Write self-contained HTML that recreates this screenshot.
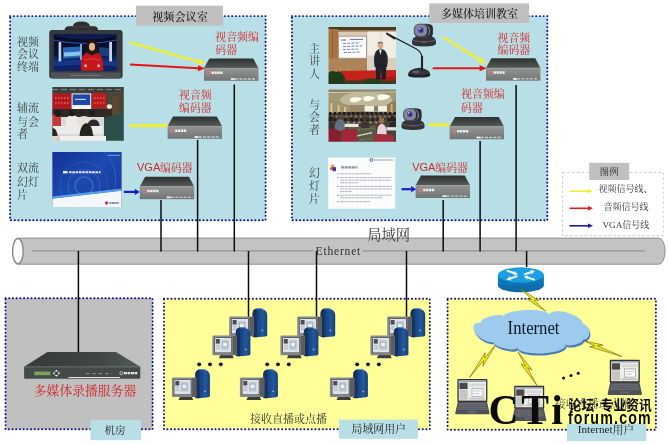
<!DOCTYPE html>
<html lang="zh-CN"><head><meta charset="utf-8"><title>多媒体录播系统网络拓扑图</title>
<style>
html,body{margin:0;padding:0;background:#fff;}
body{width:668px;height:445px;overflow:hidden;font-family:"Liberation Serif",serif;}
svg{display:block;}
svg text{opacity:.995;}
.cs{font-family:"Liberation Serif","Noto Serif CJK SC",serif;}
.cb{font-family:"Liberation Sans","Noto Sans CJK SC",sans-serif;font-weight:bold;}
</style></head><body>
<svg width="668" height="445" viewBox="0 0 668 445">
<rect width="668" height="445" fill="#fff"/>
<defs><filter id="soft" x="-5%" y="-20%" width="110%" height="140%"><feGaussianBlur stdDeviation="0.35"/></filter></defs>
<rect x="10.1" y="16.1" width="255.5" height="204.2" stroke="#121286" stroke-width="1.95" stroke-linecap="round" stroke-dasharray="0.15 3.55" fill="#b9dfe6"/>
<rect x="291.9" y="16.1" width="255.4" height="204.2" stroke="#121286" stroke-width="1.95" stroke-linecap="round" stroke-dasharray="0.15 3.55" fill="#b9dfe6"/>
<rect x="136" y="5.7" width="87" height="20" fill="#c0c0c0"/>
<rect x="429.2" y="3.4" width="99.8" height="19.6" fill="#c0c0c0"/>
<path d="M17.9 238.1H658.7a6.4 13.05 0 0 1 0 26.1H17.9z" fill="#c3c3c3" stroke="#8e8e8e" stroke-width="1"/>
<ellipse cx="17.9" cy="251.15" rx="5.3" ry="12.7" fill="#fcfcfc" stroke="#888" stroke-width="1.4"/>
<path d="M32 250.9H313.6M362.6 250.9H644.8" stroke="#949494" stroke-width="1.25"/>
<rect x="5.5" y="298.3" width="147.1" height="131.0" stroke="#121286" stroke-width="1.95" stroke-linecap="round" stroke-dasharray="0.15 3.55" fill="#c0c0c0"/>
<rect x="164.0" y="298.8" width="265.8" height="130.5" stroke="#121286" stroke-width="1.95" stroke-linecap="round" stroke-dasharray="0.15 3.55" fill="#ffff99"/>
<rect x="447.6" y="298.8" width="208.3" height="130.9" stroke="#121286" stroke-width="1.95" stroke-linecap="round" stroke-dasharray="0.15 3.55" fill="#ffff99"/>
<rect x="90.5" y="420.2" width="50.5" height="20" fill="#b9dfe6"/>
<rect x="339" y="419.6" width="79" height="19.2" fill="#b9dfe6"/>
<rect x="567" y="423.7" width="79.3" height="17.4" fill="#b9dfe6"/>
<path d="M78.40 251.00V352.50" stroke="#0a0a0a" stroke-width="1.50"/>
<path d="M161.00 200.00V251.50" stroke="#0a0a0a" stroke-width="1.50"/>
<path d="M197.60 140.00V251.50" stroke="#0a0a0a" stroke-width="1.50"/>
<path d="M234.30 84.50V251.50" stroke="#0a0a0a" stroke-width="1.50"/>
<path d="M248.50 251.00V317.00" stroke="#0a0a0a" stroke-width="1.50"/>
<path d="M316.50 251.00V317.00" stroke="#0a0a0a" stroke-width="1.50"/>
<path d="M406.50 251.00V317.00" stroke="#0a0a0a" stroke-width="1.50"/>
<path d="M443.20 200.00V251.50" stroke="#0a0a0a" stroke-width="1.50"/>
<path d="M480.10 141.00V251.50" stroke="#0a0a0a" stroke-width="1.50"/>
<path d="M516.10 85.00V251.50" stroke="#0a0a0a" stroke-width="1.50"/>
<path d="M526.60 251.00V267.00" stroke="#0a0a0a" stroke-width="1.50"/>
<defs>
<linearGradient id="encTop" x1="0" y1="0" x2="0" y2="1"><stop offset="0" stop-color="#2c302f"/><stop offset="1" stop-color="#555958"/></linearGradient>
<linearGradient id="encFront" x1="0" y1="0" x2="0" y2="1"><stop offset="0" stop-color="#929594"/><stop offset="0.5" stop-color="#828584"/><stop offset="1" stop-color="#727574"/></linearGradient>
<g id="enc">
<path d="M5.4 -9.6H49.2L54.4 0H0z" fill="url(#encTop)"/>
<rect x="0" y="0" width="54.4" height="12.8" fill="url(#encFront)"/>
<path d="M0 0.3H54.4" stroke="#a6a9a8" stroke-width="0.6"/>
<circle cx="4.9" cy="4.7" r="1.7" fill="none" stroke="#f47a7a" stroke-width="0.9"/>
<path d="M7.6 4.7H19" stroke="#f0f0f0" stroke-width="2.5" stroke-dasharray="2.3 0.6"/>
<path d="M27 11H52.5" stroke="#c8cccc" stroke-width="1.3" stroke-dasharray="3 1.2"/>
<path d="M27 11H31" stroke="#f4f4f4" stroke-width="1.5"/>
</g></defs>
<use href="#enc" x="204.0" y="68.0"/>
<use href="#enc" x="167.6" y="126.0"/>
<use href="#enc" x="139.8" y="186.4"/>
<use href="#enc" x="486.0" y="67.9"/>
<use href="#enc" x="449.6" y="126.5"/>
<use href="#enc" x="415.6" y="185.2"/>
<g filter="url(#soft)">
<path d="M130.00 42.50L198.66 61.71" stroke="#eef036" stroke-width="2.40"/><path d="M205.40 63.60L197.32 64.66L199.04 58.50z" fill="#eef036"/>
<path d="M130.00 64.50L198.51 68.25" stroke="#e01818" stroke-width="2.00"/><path d="M205.00 68.60L197.85 71.21L198.17 65.22z" fill="#e01818"/>
<path d="M129.60 125.40L165.10 125.40" stroke="#eef036" stroke-width="3.00"/><path d="M168.60 125.40L164.60 127.80L164.60 123.00z" fill="#eef036"/>
<path d="M123.90 191.90L135.30 191.90" stroke="#1a1ad0" stroke-width="2.20"/><path d="M139.80 191.90L134.80 195.00L134.80 188.80z" fill="#1a1ad0"/>
<path d="M443.00 37.00L480.44 60.12" stroke="#eef036" stroke-width="2.40"/><path d="M486.40 63.80L478.34 62.58L481.70 57.14z" fill="#eef036"/>
<path d="M432.70 68.20L480.10 68.20" stroke="#e01818" stroke-width="2.10"/><path d="M486.60 68.20L479.60 71.20L479.60 65.20z" fill="#e01818"/>
<path d="M428.80 124.80L447.10 124.80" stroke="#eef036" stroke-width="3.00"/><path d="M450.60 124.80L446.60 127.20L446.60 122.40z" fill="#eef036"/>
<path d="M401.50 189.20L411.70 189.20" stroke="#1a1ad0" stroke-width="2.20"/><path d="M416.20 189.20L411.20 192.30L411.20 186.10z" fill="#1a1ad0"/>
</g>
<rect x="562.5" y="172.5" width="100.8" height="63" fill="none" stroke="#c6c6c6" stroke-width="0.9" stroke-dasharray="2.4 2.4"/>
<rect x="589.2" y="162.8" width="40" height="17.2" fill="#c0c0c0"/>
<path d="M569.50 191.20L588.50 191.20" stroke="#eef036" stroke-width="1.60"/><path d="M593.00 191.20L588.00 193.40L588.00 189.00z" fill="#eef036"/>
<path d="M569.50 208.30L588.50 208.30" stroke="#e01818" stroke-width="1.60"/><path d="M593.00 208.30L588.00 210.50L588.00 206.10z" fill="#e01818"/>
<path d="M569.50 225.80L588.50 225.80" stroke="#1a1aa8" stroke-width="1.60"/><path d="M593.00 225.80L588.00 228.00L588.00 223.60z" fill="#1a1aa8"/>
<defs>
<filter id="ph" x="-2%" y="-2%" width="104%" height="104%"><feGaussianBlur stdDeviation="0.55"/></filter>
<filter id="ph2" x="-2%" y="-2%" width="104%" height="104%"><feGaussianBlur stdDeviation="0.9"/></filter>
<filter id="b3" x="-10%" y="-10%" width="120%" height="120%"><feGaussianBlur stdDeviation="0.3"/></filter>
<clipPath id="cTV"><rect x="53.8" y="34" width="62.7" height="36.7"/></clipPath>
<clipPath id="cMeet"><rect x="52.3" y="87" width="71.5" height="53.7"/></clipPath>
<clipPath id="cSlide"><rect x="52.2" y="152" width="69.6" height="55"/></clipPath>
<clipPath id="cLect"><rect x="328.5" y="27" width="67.5" height="57"/></clipPath>
<clipPath id="cAud"><rect x="328.5" y="89.6" width="67.5" height="52.2"/></clipPath>
<linearGradient id="gTV" x1="0" y1="0" x2="0" y2="1"><stop offset="0" stop-color="#050920"/><stop offset="0.55" stop-color="#08133a"/><stop offset="0.74" stop-color="#10327e"/><stop offset="1" stop-color="#091e58"/></linearGradient>
<linearGradient id="gSlide" x1="0" y1="0" x2="1" y2="1"><stop offset="0" stop-color="#143096"/><stop offset="0.45" stop-color="#1c49b0"/><stop offset="1" stop-color="#1a3a9c"/></linearGradient>
<linearGradient id="gTower" x1="0" y1="0" x2="1" y2="0"><stop offset="0" stop-color="#12305f"/><stop offset="0.3" stop-color="#18427f"/><stop offset="0.7" stop-color="#24589c"/><stop offset="1" stop-color="#183f78"/></linearGradient>
<linearGradient id="gRouterSide" x1="0" y1="0" x2="1" y2="0"><stop offset="0" stop-color="#0a6aa8"/><stop offset="0.5" stop-color="#0c78ba"/><stop offset="1" stop-color="#08588e"/></linearGradient>
<linearGradient id="gCloud" x1="0" y1="0" x2="0" y2="1"><stop offset="0" stop-color="#b4dcf6"/><stop offset="0.6" stop-color="#9ccbee"/><stop offset="1" stop-color="#78b0e0"/></linearGradient>
</defs>
<g id="tv">
<path d="M64.5 30.5Q64.5 26.4 69 26.2L73 26Q73.4 21.4 81.4 21.4T89.8 26L94 26.2Q98.2 26.4 98.2 30.5z" fill="#2e3033"/>
<path d="M70 26.9H93" stroke="#55585c" stroke-width="0.7"/>
<rect x="49.2" y="30" width="73.4" height="48.6" rx="3" fill="#35383c"/>
<path d="M51 72.5H120.8V76.5Q120.8 78.6 118 78.6H54Q51 78.6 51 76.5z" fill="#505357"/>
<path d="M70 75.3H100" stroke="#8b8e92" stroke-width="1" stroke-dasharray="1 0.5"/>
<rect x="53.8" y="34" width="62.7" height="36.7" fill="url(#gTV)"/>
<g clip-path="url(#cTV)"><g filter="url(#ph)">
<path d="M53 36Q85 43 117 36V34H53z" fill="#101f4e"/>
<path d="M53 40Q85 47 117 40" stroke="#2f56a2" stroke-width="1.2" fill="none"/>
<rect x="58.6" y="42" width="2.6" height="22" fill="#c9d4e4"/>
<rect x="109.2" y="42" width="2.8" height="22" fill="#c9d4e4"/>
<rect x="80" y="44" width="2" height="18" fill="#8fa6cc"/>
<path d="M63 47.5L80 46.4V57.6L63 58.6z" fill="#2668b8"/>
<path d="M64 52.6L80 51.6V55.4L64 56.4z" fill="#8cc4ee"/>
<path d="M99 47L109 48.2V56.4L99 55.6z" fill="#1c3c78"/>
<path d="M53 62Q85 58 117 62V71H53z" fill="#123688"/>
<path d="M53 66.6Q85 63 117 66.6V71H53z" fill="#0a2466"/>
<ellipse cx="92" cy="45.8" rx="5.6" ry="6" fill="#20140f"/>
<path d="M86.6 47Q85 55 87.4 58H96.6Q99 55 97.4 47z" fill="#20140f"/>
<ellipse cx="92" cy="46.8" rx="3.1" ry="4" fill="#e4b394"/>
<path d="M81 71Q79.6 55.4 87 52.8L92 55.6L97 52.8Q104.4 55.4 103.2 71z" fill="#c4161c"/>
<path d="M84 60Q92 57 100 60" stroke="#e0484a" stroke-width="0.8" fill="none"/>
<circle cx="85.6" cy="65.8" r="1.5" fill="#e0b090"/><circle cx="98.6" cy="65.8" r="1.5" fill="#e0b090"/>
</g></g>
</g>
<g clip-path="url(#cMeet)"><g filter="url(#ph)">
<rect x="51" y="86" width="74" height="56" fill="#4a4a40"/>
<rect x="51" y="86" width="74" height="7.5" fill="#3c413c"/>
<path d="M52 89.6H124" stroke="#8a8c84" stroke-width="0.9" stroke-dasharray="6 3"/>
<rect x="52.3" y="93.5" width="19" height="16" fill="#b3181c"/>
<rect x="92" y="93" width="14.4" height="15.4" fill="#b81a1e"/>
<path d="M55 98H70M55 103H70M94 98H105M94 103H105" stroke="#d86a60" stroke-width="1.6" stroke-dasharray="1.6 1.4"/>
<rect x="71.6" y="93.4" width="19.6" height="15.8" fill="#f1f3f7"/>
<rect x="72.6" y="94.4" width="17.6" height="10.6" fill="#2344a8"/>
<path d="M75 99.4H86" stroke="#bcd0f2" stroke-width="1.2"/>
<rect x="106.4" y="92" width="18" height="30" fill="#4c4434"/>
<rect x="112" y="96" width="7" height="18" fill="#5c4a34"/>
<ellipse cx="109.4" cy="106.6" rx="2.6" ry="2.4" fill="#e8e4d8"/>
<rect x="103" y="109" width="9" height="13" fill="#3b2a20"/>
<path d="M104 118L124 112V141H104z" fill="#2f5048"/>
<rect x="52" y="109" width="53" height="8" fill="#2e2a28"/>
<path d="M52 117H104V141H52z" fill="#d8d8d6"/>
<path d="M52 116Q56 110 61 116V128H52z" fill="#c23a3a"/>
<ellipse cx="58" cy="113.4" rx="3.6" ry="3.4" fill="#1c1a1a"/>
<path d="M66 118Q72 112 79 118V131H66z" fill="#ecebe8"/>
<ellipse cx="72" cy="113" rx="3.4" ry="3.2" fill="#221e1c"/>
<ellipse cx="82" cy="112.4" rx="3.2" ry="3" fill="#2a2422"/><ellipse cx="92" cy="113" rx="3.2" ry="3" fill="#241f1d"/>
<path d="M77 119Q84 113 91 119V128H77z" fill="#e4e2de"/>
<path d="M87 127Q88 119.4 93.6 119.6Q99.4 119.4 100 128V133H87z" fill="#2b2c30"/>
<rect x="53" y="126" width="50" height="8" fill="#ebebea"/>
<path d="M79.6 141Q79 124.6 86.4 123Q93.6 124.6 93 141z" fill="#26221f"/>
<path d="M77.4 141Q78 134.6 86.4 133.6Q95 134.6 100.6 141z" fill="#2b2927"/>
<path d="M52 128Q56.6 127.4 57.6 136H52z" fill="#2a2624"/>
<path d="M56 141Q58 133 64 136L66 141z" fill="#e6c8b4"/>
<rect x="60" y="136" width="46" height="5" fill="#f0f0ef"/>

</g></g>
<g clip-path="url(#cSlide)">
<rect x="52.2" y="152" width="69.6" height="55" fill="url(#gSlide)"/>
<g filter="url(#ph)">
<circle cx="84" cy="186" r="9" fill="none" stroke="#4f7fd4" stroke-width="1.6" opacity=".55"/>
<circle cx="84" cy="186" r="16" fill="none" stroke="#4a78cc" stroke-width="1.2" opacity=".45"/>
<circle cx="84" cy="186" r="24" fill="none" stroke="#4370c4" stroke-width="1" opacity=".4"/>
<path d="M104 152Q122 168 112 196" stroke="#4a76cc" stroke-width="1" fill="none" opacity=".5"/>
<path d="M52.2 198.4L121.8 190.4V207H52.2z" fill="#f4f7fb"/>
<path d="M52.2 197.6L121.8 189.6" stroke="#55a0e6" stroke-width="2.4"/>
<path d="M63 172.2H67.6" stroke="#e8eefc" stroke-width="2.4"/>
<path d="M69 172.2H100.6" stroke="#dfe8fa" stroke-width="1.9" stroke-dasharray="2.6 .7"/>
<path d="M108 155.4H120" stroke="#8fb0ea" stroke-width="0.8"/>
<circle cx="106.6" cy="203" r="1.7" fill="#c4364a"/>
<path d="M109.4 203H118.6" stroke="#51608c" stroke-width="1.7" stroke-dasharray="2 .5"/>
</g></g>
<g clip-path="url(#cLect)"><g filter="url(#ph)">
<rect x="327" y="26" width="70" height="59" fill="#d9cab2"/>
<rect x="327" y="26" width="70" height="4.6" fill="#4f3822"/>
<path d="M327 31H397" stroke="#a08258" stroke-width="1.4"/>
<rect x="327" y="29" width="11.4" height="43" fill="#aa733c"/>
<path d="M332.6 30V70" stroke="#8c5c2e" stroke-width="0.8"/>
<rect x="367.4" y="31.6" width="29" height="27" fill="#f1ede5"/>
<path d="M381 33V58" stroke="#cfc8ba" stroke-width="0.7"/>
<rect x="338.4" y="36.2" width="28" height="22" fill="#fbfbfb" stroke="#8b8578" stroke-width="0.7"/>
<path d="M341 40H346M350 39.4H363" stroke="#55617c" stroke-width="0.9"/>
<path d="M343 43.6L360 42.8M343 46.6L362 45.8M343 49.6L358 49M344 52.6L361 52" stroke="#5b79b8" stroke-width="0.9" stroke-dasharray="3 1.2"/>
<rect x="327" y="58.4" width="70" height="14" fill="#ab8558"/>
<rect x="367" y="58" width="30" height="14" fill="#dccfbc"/>
<rect x="367" y="55.6" width="9" height="17.4" fill="#d9d4ca"/>
<path d="M338 71L397 70V82H336z" fill="#c4201f"/>
<path d="M345 81L397 76V85H345z" fill="#a81a1a"/>
<rect x="327" y="80.6" width="70" height="4" fill="#3a3a22"/>
<path d="M327 74Q331 69 336 72Q341 70 344 76Q347 80 343 84H327z" fill="#223a1a"/>
<path d="M362 84Q364 78 372 78.6Q380 77.4 384 84z" fill="#27401e"/>
<path d="M348 66V71M340 67V72" stroke="#b8a050" stroke-width="0.7"/>
<ellipse cx="380.5" cy="45.2" rx="2.7" ry="3.2" fill="#d8a888"/>
<path d="M377.8 44Q380.3 40.6 382.8 44L382.6 42.6Q380.3 40.8 378 42.6z" fill="#2a2018"/>
<path d="M374 61Q373.6 49.6 380.6 48.6Q388 49.6 387.8 61L387 67H374.6z" fill="#24262c"/>
<path d="M379 49.4L380.4 55L381.8 49.4z" fill="#e8e8ee"/>
<path d="M375.4 64H386.4L385.8 78.4H381.8L380.9 69L380 78.4H376.2z" fill="#1e2026"/>
<path d="M376 78.6H380.4M381.4 78.6H385.6" stroke="#18181c" stroke-width="1.2"/>
</g></g>
<g clip-path="url(#cAud)"><g filter="url(#ph)">
<rect x="327" y="88" width="70" height="55" fill="#4e463e"/>
<path d="M327 88H397V106L376 109H350L327 103z" fill="#a29978"/>
<ellipse cx="366" cy="100" rx="26" ry="8" fill="#c2b99a"/>
<path d="M327 88H397V92.4H327z" fill="#8c8466"/>
<path d="M327 92.6L397 91.8" stroke="#d2cab0" stroke-width="1"/>
<path d="M350 98.6Q356 96 362.4 98.4Q357 103.4 350.6 102z" fill="#fffbe8"/>
<path d="M363.4 97Q369.4 94.6 375.4 97.4Q370 102.4 364 100.8z" fill="#fffdf0"/>
<path d="M377.4 95.4Q384 92.8 390.6 96Q385 101.6 378 100z" fill="#fffdf0"/>
<path d="M327 98L350 105.4V117H327z" fill="#a3946c"/>
<path d="M331.4 103V115M338.6 105V116M345 107V116" stroke="#d8caa0" stroke-width="1.8"/>
<path d="M397 100L385 105.4V117H397z" fill="#8f7c52"/>
<path d="M391.6 104V116" stroke="#c8b484" stroke-width="1.8"/>
<rect x="350" y="105" width="36" height="8" fill="#97896a"/>
<rect x="364.6" y="105.6" width="22.4" height="6" fill="#f1efe6"/>
<rect x="374" y="106" width="4" height="5.6" fill="#8a7c68"/>
<path d="M327 113.6Q362 110 397 113.6V143H327z" fill="#4a423a"/>
<path d="M329 113.6H396" stroke="#231d1a" stroke-width="3" stroke-dasharray="2.6 2"/>
<path d="M331 116.6H396" stroke="#8d7a66" stroke-width="2" stroke-dasharray="2 2.8"/>
<path d="M328 119.6H396" stroke="#221c19" stroke-width="2.8" stroke-dasharray="3 2.4"/>
<path d="M347 122.6H378" stroke="#9c8a76" stroke-width="2" stroke-dasharray="2.4 3.2"/>
<path d="M352 126H376" stroke="#2b2420" stroke-width="3" stroke-dasharray="3.2 2.6"/>
<path d="M356 126L376 125V143H358z" fill="#5a5a42"/>
<path d="M358 130L374 128M359 135L373 133M360 140L372 138" stroke="#7a7a58" stroke-width="1.4" stroke-dasharray="2 1.6"/>
<path d="M334.6 131Q334.6 119.4 340 119T345.6 131z" fill="#617182"/>
<ellipse cx="339.8" cy="116.6" rx="2.5" ry="2.7" fill="#5a4232"/>
<ellipse cx="331" cy="118.6" rx="2.4" ry="2.6" fill="#2a221e"/><path d="M327 131V121.6Q331 120.4 334 123V131z" fill="#3a322e"/>
<ellipse cx="352" cy="119.6" rx="2.5" ry="2.7" fill="#2b2420"/><path d="M348 129Q348 122.4 352 122.4T356.4 129z" fill="#6a5a4c"/>
<rect x="344.6" y="123.8" width="14" height="3.2" fill="#e8e6dc"/>
<ellipse cx="365" cy="118.6" rx="2.4" ry="2.6" fill="#4a3428"/><path d="M361 128Q361 121.4 365 121.4T369.4 128z" fill="#3c3430"/>
<path d="M377 136Q376.6 124.2 381.8 123.8Q387 124.2 386.6 136z" fill="#ead4da"/>
<ellipse cx="381.6" cy="120.6" rx="3" ry="3.1" fill="#8e6c4c"/>
<ellipse cx="392.6" cy="118.6" rx="2.6" ry="2.8" fill="#2a221e"/><path d="M388.8 130Q389 121.6 393.4 121.6L397 122.6V130z" fill="#2f2b2a"/>
<rect x="386.4" y="127.2" width="10" height="3.2" fill="#dfe5ec"/>
<path d="M341.2 143V132Q341.6 129 346 129.2L354 129.6Q357.6 130 357.4 134L356.6 143z" fill="#a02838"/>
<path d="M327 128.6Q334 127.6 339.6 131V143H327z" fill="#8a1f30"/>
<path d="M374.3 143V137Q374.6 133.8 379 134L390 134.4Q394 134.8 394 138.6V143z" fill="#a32a3a"/>
<path d="M357 136L372 132.6" stroke="#dcd8cc" stroke-width="1.2"/>
</g></g>
<g>
<rect x="328.2" y="157.6" width="67" height="51.1" fill="#fcfcfd"/>
<g filter="url(#b3)">
<circle cx="371.4" cy="160" r="1.5" fill="none" stroke="#3a4152" stroke-width="0.8"/>
<path d="M373.6 160H393.6" stroke="#7a88b0" stroke-width="0.8"/>
<circle cx="332.8" cy="166.4" r="1.9" fill="#f0a020"/>
<circle cx="331.6" cy="168.6" r="1.7" fill="#e05838"/>
<rect x="332.6" y="167.2" width="3.4" height="4" fill="#3a3c9c"/>
<path d="M341 167.4H357.4" stroke="#8b93b4" stroke-width="2.2" stroke-dasharray="3 .6"/>
<g stroke="#aeb3c2" stroke-width="0.95" stroke-dasharray="4 .5 2.6 .5">
<path d="M340 173.8H371.6"/><path d="M340 177.6H391.6"/><path d="M340 180.2H391"/><path d="M340 182.8H358"/>
<path d="M340 186.4H392"/><path d="M340 189H392.4"/><path d="M340 191.6H352"/>
<path d="M340 195.2H391.4"/><path d="M340 197.8H382.6"/><path d="M340 201.6H370"/>
</g>
<g fill="#4a5a94"><circle cx="338" cy="173.8" r=".6"/><circle cx="338" cy="177.6" r=".6"/><circle cx="338" cy="186.4" r=".6"/><circle cx="338" cy="195.2" r=".6"/><circle cx="338" cy="201.6" r=".6"/></g>
</g></g>
<defs><g id="cam">
<path d="M0 19Q0 15 3.4 13.4Q5 11.6 12 11.6T20.6 13.4Q24 15 24 19V20Q24 23 12 23T0 20z" fill="#303238"/>
<path d="M1.2 17Q12 20.4 22.8 17" stroke="#666970" stroke-width="0.9" fill="none"/>
<rect x="1.8" y="0.4" width="19" height="13.6" rx="5.4" fill="#43464d"/>
<rect x="13.8" y="1" width="7" height="12.6" rx="3.4" fill="#2b2d32"/><path d="M15.4 2.4Q19.4 6.6 16.4 12" stroke="#9a9da6" stroke-width="0.9" fill="none"/>
<rect x="2.6" y="1.2" width="12.6" height="11.6" rx="4.6" fill="#80848c"/>
<circle cx="8.8" cy="6.8" r="4.6" fill="#9094b4"/>
<circle cx="8.8" cy="6.8" r="3.4" fill="#5a5da8"/>
<circle cx="9" cy="7" r="1.8" fill="#2c2e6a"/>
<circle cx="7.6" cy="5.4" r="0.9" fill="#c8ccf0"/>
<circle cx="12" cy="18.6" r="0.8" fill="#7a7d84"/>
</g></defs>
<use href="#cam" x="412" y="23.4" filter="url(#b3)"/>
<use href="#cam" transform="translate(401.4 107.8) scale(0.965)" filter="url(#b3)"/>
<g filter="url(#b3)">
<path d="M407.9 75Q408 69 419.2 67.8Q430.2 69 430.4 75Q430.4 77.6 419.2 77.6T407.9 75z" fill="#222327"/>
<path d="M409.4 73.4Q410 69.6 419.2 69T429 73.4Q424 75.2 419.2 75.2T409.4 73.4z" fill="#34363b"/>

<ellipse cx="416" cy="72" rx="3.6" ry="1.4" fill="#5a5d63"/>
<path d="M388.6 34.4L416 48.8Q422 52 422 58V70.4" stroke="#222326" stroke-width="1.25" fill="none"/>
<path d="M422 56V70.6" stroke="#222326" stroke-width="2.1"/>
<path d="M387 33.6L394.4 38.4" stroke="#2a2b2e" stroke-width="2.2" stroke-linecap="round"/>
</g>
<defs><linearGradient id="gSrvTop" x1="0" y1="0" x2="1" y2="0"><stop offset="0" stop-color="#353b38"/><stop offset="0.6" stop-color="#3f4541"/><stop offset="1" stop-color="#535954"/></linearGradient></defs>
<g filter="url(#b3)">
<path d="M47.4 352.1H116L140.3 366.8H24.1z" fill="url(#gSrvTop)"/>
<path d="M24.1 366.8H140.3V377.4Q140.3 378.7 139 378.7H25.4Q24.1 378.7 24.1 377.4z" fill="#454b48"/>
<path d="M24.1 367.1H140.3" stroke="#6f7472" stroke-width="0.6"/>
<rect x="34.2" y="371.6" width="16.2" height="3.6" fill="#76a656"/>
<path d="M56.4 369.8l1.7 1.7h-3.4zM56.4 376.8l1.7-1.7h-3.4zM52.8 373.3l1.7-1.7v3.4zM60 373.3l-1.7-1.7v3.4z" fill="#f4f4f4"/>
<path d="M86 373.6H112" stroke="#9a9e9c" stroke-width="0.9" stroke-dasharray="3.4 3"/>
<circle cx="121.4" cy="373.2" r="1.6" fill="none" stroke="#e8e8e8" stroke-width="0.7"/>
<path d="M124 373.2H138" stroke="#e8e8e8" stroke-width="2.2" stroke-dasharray="2.8 .7"/>
<path d="M68.6 377.5H120" stroke="#e6e8e6" stroke-width="1.1"/>
</g>
<defs><g id="pc">
<path d="M22.8 19.8V-3Q22.8 -7.2 26.6 -8.2Q30.4 -9 33.8 -7.4Q37.4 -5.8 37.4 -1.6V18.4Q37.4 19.4 35.6 19.6L26.4 20.5Q22.8 20.7 22.8 19.8z" fill="url(#gTower)"/>
<path d="M22.8 19.8V-3Q22.8 -7.2 26.6 -8.2L27 20.4Q22.8 20.7 22.8 19.8z" fill="#12305f"/>
<path d="M27.2 -8Q30.8 -8.9 33.8 -7.4" stroke="#5a8ccc" stroke-width="0.9" fill="none"/>
<circle cx="32.6" cy="13.6" r="0.9" fill="#8fb4e4"/>
<path d="M7.4 19H19.4L20.6 22.4H6z" fill="#3c3c3e"/>
<rect x="-0.6" y="-0.2" width="24.4" height="19.6" rx="1" fill="#8a8a8a"/>
<path d="M19.6 0.2H23Q23.8 0.2 23.8 1.2V18Q23.8 19 22.8 19H19.6z" fill="#5c5c5e"/>
<rect x="1.2" y="1.4" width="17.8" height="16" fill="#555a60"/>
<rect x="2" y="2.2" width="16.2" height="14.4" fill="#dde2e6"/>
<rect x="2.8" y="3.2" width="4" height="4.6" fill="#4a5058"/>
<rect x="8.4" y="4.4" width="7.4" height="9.4" fill="#b9c4d2"/>
<rect x="9.6" y="6.4" width="4.8" height="4.6" fill="#eef2f6" stroke="#8a94a6" stroke-width="0.5"/>
<path d="M3 10H7M3 12.4H7" stroke="#9aa2ac" stroke-width="0.8"/>
</g></defs>
<use href="#pc" x="229.8" y="316.8" filter="url(#b3)"/>
<use href="#pc" x="213.0" y="335.8" filter="url(#b3)"/>
<use href="#pc" x="172.5" y="377.7" filter="url(#b3)"/>
<circle cx="199.2" cy="364.3" r="1.9" fill="#0c0c0c"/>
<circle cx="210.0" cy="364.3" r="1.9" fill="#0c0c0c"/>
<circle cx="220.8" cy="364.3" r="1.9" fill="#0c0c0c"/>
<use href="#pc" x="297.8" y="316.8" filter="url(#b3)"/>
<use href="#pc" x="281.0" y="335.8" filter="url(#b3)"/>
<use href="#pc" x="240.5" y="377.7" filter="url(#b3)"/>
<circle cx="267.2" cy="364.3" r="1.9" fill="#0c0c0c"/>
<circle cx="278.0" cy="364.3" r="1.9" fill="#0c0c0c"/>
<circle cx="288.8" cy="364.3" r="1.9" fill="#0c0c0c"/>
<use href="#pc" x="387.8" y="316.8" filter="url(#b3)"/>
<use href="#pc" x="371.0" y="335.8" filter="url(#b3)"/>
<use href="#pc" x="330.5" y="377.7" filter="url(#b3)"/>
<circle cx="357.2" cy="364.3" r="1.9" fill="#0c0c0c"/>
<circle cx="368.0" cy="364.3" r="1.9" fill="#0c0c0c"/>
<circle cx="378.8" cy="364.3" r="1.9" fill="#0c0c0c"/>
<defs><linearGradient id="gRouterSide2" x1="0" y1="0" x2="0" y2="1"><stop offset="0" stop-color="#1182c4"/><stop offset="1" stop-color="#0a66a2"/></linearGradient></defs>
<g filter="url(#b3)">
<path d="M497.9 274.9V285.4A23 6.9 0 0 0 543.9 285.4V274.9z" fill="url(#gRouterSide2)"/>
<ellipse cx="520.9" cy="274.9" rx="23" ry="7.6" fill="#1f9fe0"/>
<path d="M506.80 270.70L514.58 273.27" stroke="#f6fbff" stroke-width="1.90"/><path d="M518.00 274.40L513.32 275.17L514.70 270.99z" fill="#f6fbff"/>
<path d="M534.90 279.90L527.22 277.34" stroke="#f6fbff" stroke-width="1.90"/><path d="M523.80 276.20L528.48 275.44L527.09 279.62z" fill="#f6fbff"/>
<path d="M524.20 274.40L531.58 272.01" stroke="#f6fbff" stroke-width="1.90"/><path d="M535.00 270.90L531.68 274.29L530.33 270.10z" fill="#f6fbff"/>
<path d="M517.40 276.20L509.83 278.61" stroke="#f6fbff" stroke-width="1.90"/><path d="M506.40 279.70L509.74 276.33L511.07 280.52z" fill="#f6fbff"/>
</g>
<polygon points="520.30,288.50 531.80,299.41 527.13,299.06 545.40,311.00 533.90,300.09 538.57,300.44" fill="#f4e81e" stroke="#6e6a10" stroke-width="0.65" stroke-linejoin="round"/>
<polygon points="495.80,344.60 484.44,358.10 485.10,352.71 469.60,377.40 483.58,360.62 482.92,366.01" fill="#f4e81e" stroke="#6e6a10" stroke-width="0.65" stroke-linejoin="round"/>
<polygon points="518.00,351.80 525.59,366.22 521.01,363.90 537.00,385.60 527.51,367.80 532.09,370.12" fill="#f4e81e" stroke="#6e6a10" stroke-width="0.65" stroke-linejoin="round"/>
<polygon points="583.10,340.50 594.93,345.85 589.59,346.73 621.80,356.40 597.59,345.97 602.93,345.08" fill="#f4e81e" stroke="#6e6a10" stroke-width="0.65" stroke-linejoin="round"/>
<g filter="url(#b3)">
<path d="M480.5 322.5C481.0 316.8 504.5 311.5 504.0 317.2C501.5 309.3 547.2 306.9 549.7 314.8C551.4 305.9 584.3 315.3 582.6 324.2C591.3 324.5 591.9 339.7 583.2 339.4C583.7 343.8 565.8 348.0 565.3 343.6C569.9 353.7 521.6 357.7 517.0 347.6C516.8 352.5 493.1 347.1 493.3 342.2C477.8 342.5 465.0 322.8 480.5 322.5z" fill="#4a7cb6" transform="translate(0.9 2.1)"/>
<path d="M480.5 322.5C481.0 316.8 504.5 311.5 504.0 317.2C501.5 309.3 547.2 306.9 549.7 314.8C551.4 305.9 584.3 315.3 582.6 324.2C591.3 324.5 591.9 339.7 583.2 339.4C583.7 343.8 565.8 348.0 565.3 343.6C569.9 353.7 521.6 357.7 517.0 347.6C516.8 352.5 493.1 347.1 493.3 342.2C477.8 342.5 465.0 322.8 480.5 322.5z" fill="#9dcbee"/>
</g>
<text transform="translate(507.6 333.5) scale(1 1.07)" font-family="Liberation Serif" font-size="16.7" fill="#0c1626">Internet</text>
<defs><g id="lap">
<path d="M0.4 22.6H29.6L32.2 34.4Q32.4 35.2 31.4 35.2H-1.4Q-2.4 35.2 -2.2 34.4z" fill="#50505a"/>
<path d="M2 24H28L30 30.6H0z" fill="#6e6e78"/>
<path d="M1.8 25.6H28.4M1.2 27.4H29M0.6 29.2H29.6" stroke="#42424a" stroke-width="0.5"/>
<rect x="10.4" y="31.6" width="9" height="2.4" fill="#62626c"/>
<rect x="0" y="0" width="30" height="23" rx="1" fill="#303036"/>
<rect x="1.3" y="1.3" width="27.4" height="20.2" fill="#eeeeea"/>
<rect x="1.3" y="1.3" width="27.4" height="1.6" fill="#9aa4b4"/>
<rect x="2" y="3.6" width="8.2" height="6.4" fill="#4a484c"/>
<rect x="2" y="10.8" width="8.2" height="9.8" fill="#c4c6c2"/>
<rect x="11.4" y="4.4" width="16.2" height="3" fill="#d6d9d5"/>
<rect x="14.6" y="9.2" width="11" height="8.2" fill="#fafafa" stroke="#8a8c92" stroke-width="0.6"/>
<path d="M16.2 11.8H24M16.2 14.4H22" stroke="#b0b4bc" stroke-width="0.7"/>
<rect x="11.4" y="18.6" width="16.2" height="1.8" fill="#c2c4c0"/>
</g></defs>
<use href="#lap" x="457.4" y="379.1" filter="url(#b3)"/>
<use href="#lap" x="514.2" y="385.8" filter="url(#b3)"/>
<use href="#lap" x="609.8" y="359.7" filter="url(#b3)"/>
<circle cx="563.6" cy="378.0" r="1.5" fill="#0c0c0c"/>
<circle cx="571.0" cy="375.6" r="1.5" fill="#0c0c0c"/>
<circle cx="578.2" cy="373.2" r="1.5" fill="#0c0c0c"/>
<text class="cs" x="152.20" y="20.62" font-size="11.15" font-weight="500" fill="#151515">视频会议室</text>
<text class="cs" x="441.11" y="18.47" font-size="10.97" font-weight="500" fill="#151515">多媒体培训教室</text>
<g class="cs" font-size="11" fill="#3a4346">
<text x="17.11" y="45.50">视频</text>
<text x="17.11" y="58.30">会议</text>
<text x="17.11" y="71.30">终端</text>
<text x="17.11" y="112.30">辅流</text>
<text x="17.11" y="125.70">与会</text>
<text x="17.11" y="138.09">者</text>
<text x="17.11" y="172.29">双流</text>
<text x="17.11" y="185.69">幻灯</text>
<text x="17.11" y="199.09">片</text>
<text x="309.00" y="52.50">主</text>
<text x="309.00" y="65.30">讲</text>
<text x="309.00" y="78.09">人</text>
<text x="309.00" y="108.70">与</text>
<text x="309.00" y="121.30">会</text>
<text x="309.00" y="134.09">者</text>
<text x="309.00" y="177.29">幻</text>
<text x="309.00" y="190.29">灯</text>
<text x="309.00" y="202.89">片</text>
</g>
<g class="cs" font-size="10.9" fill="#d42626">
<text x="215.31" y="41.21">视音频编</text>
<text x="215.31" y="54.41">码器</text>
<text x="179.01" y="98.81">视音频</text>
<text x="179.01" y="112.01">编码器</text>
<text x="497.51" y="41.61">视音频</text>
<text x="497.51" y="54.41">编码器</text>
<text x="461.01" y="98.41">视音频编</text>
<text x="461.01" y="111.61">码器</text>
</g>
<g fill="#d42626"><text x="137.00" y="171.48" font-family="Liberation Sans" font-size="11.00">VGA</text><text class="cs" x="160.07" y="171.81" font-size="10.9">编码器</text></g>
<g fill="#d42626"><text x="412.20" y="171.48" font-family="Liberation Sans" font-size="11.00">VGA</text><text class="cs" x="435.27" y="171.81" font-size="10.9">编码器</text></g>
<text class="cs" x="599.78" y="174.74" font-size="9.4" fill="#222">图例</text>
<text class="cs" x="598.39" y="192.00" font-size="9" fill="#333">视频信号线、</text>
<text class="cs" x="603.60" y="210.00" font-size="9" fill="#333">音频信号线</text>
<g fill="#333"><text x="602.40" y="227.53" font-family="Liberation Serif" font-size="9.20">VGA</text><text class="cs" x="622.20" y="227.80" font-size="9">信号线</text></g>
<text class="cs" x="367.26" y="239.68" font-size="14.3" fill="#3a3a3a">局域网</text>
<text x="315.6" y="254.7" font-family="Liberation Serif" font-size="11.6" letter-spacing="0.78" fill="#333">Ethernet</text>
<text class="cs" x="33.82" y="394.62" font-size="12.8" fill="#d42626">多媒体录播服务器</text>
<text class="cs" x="104.52" y="433.76" font-size="10.6" fill="#222">机房</text>
<text class="cs" x="249.91" y="423.30" font-size="11" fill="#333">接收直播或点播</text>
<text class="cs" x="351.51" y="432.81" font-size="10.9" fill="#222">局域网用户</text>
<text class="cs" x="554.71" y="408.30" font-size="11" fill="#444">接收直播或点播</text>
<g fill="#222"><text x="577.80" y="433.40" font-family="Liberation Serif" font-size="11.20">Internet</text><text class="cs" x="612.46" y="433.73" font-size="10.8">用户</text></g>
<text x="488.4" y="424.4" font-family="Liberation Serif" font-weight="bold" font-size="41.6" letter-spacing="2.9" fill="#0a0a0a">CTi</text>
<g transform="translate(0 398.6) scale(1 1.09) translate(0 -398.6)"><g class="cb" font-size="12.8" fill="#0a0a0a"><text x="568.62" y="409.42">论坛</text><text x="597.42" y="409.42" text-anchor="middle">·</text><text x="600.62" y="409.42">专业资讯</text></g></g>
<text transform="translate(567.9 424.2) scale(0.9 1.12)" font-family="Liberation Sans" font-weight="bold" font-size="15.8" letter-spacing="1.3" fill="#0a0a0a">forum.com</text>
</svg>
</body></html>
